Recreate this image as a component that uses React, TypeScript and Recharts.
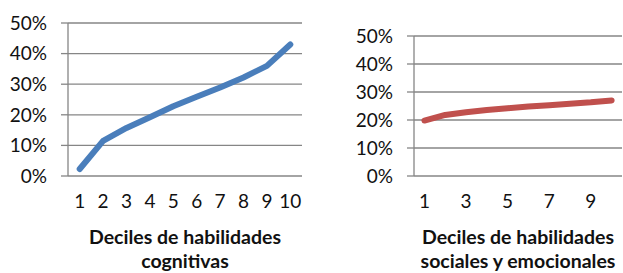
import { CartesianGrid, Label, Line, LineChart, XAxis, YAxis } from 'recharts';

const deciles = [1, 2, 3, 4, 5, 6, 7, 8, 9, 10];
const cognitivas = [0.023, 0.115, 0.157, 0.192, 0.228, 0.259, 0.289, 0.322, 0.36, 0.43];
const socioemocionales = [0.198, 0.218, 0.228, 0.236, 0.242, 0.248, 0.253, 0.258, 0.263, 0.27];
const yTicks = [0, 0.1, 0.2, 0.3, 0.4, 0.5];
const leftLabelTicks = [1, 2, 3, 4, 5, 6, 7, 8, 9, 10];
const rightLabelTicks = [1, 3, 5, 7, 9];
const leftTitle = ['Deciles de habilidades', 'cognitivas'];
const rightTitle = ['Deciles de habilidades', 'sociales y emocionales'];

// tick marks sit between the categories, labels at their centres
const bounds = [...deciles.map((d) => d - 0.5), deciles[deciles.length - 1] + 0.5];

const FONT = 'Lato, sans-serif';
const AXIS = '#868686';
const TEXT = '#111';

type Margin = { top: number; right: number; left: number; bottom: number };

type PanelProps = {
    values: number[];
    color: string;
    labelTicks: number[];
    title: string[];
    width: number;
    yAxisWidth: number;
    margin: Margin;
};

function Panel({ values, color, labelTicks, title, width, yAxisWidth, margin }: PanelProps) {
    const data = deciles.map((d, i) => ({ decil: d, value: values[i] }));

    const renderTitle = (props: any) => {
        const vb = props.viewBox || {};
        const cx = vb.x + vb.width / 2;
        return (
            <text x={cx} y={vb.y} textAnchor="middle" fontFamily={FONT} fontSize={19.5} fontWeight={700} fill={TEXT}>
                <tspan x={cx} dy={68}>{title[0]}</tspan>
                <tspan x={cx} dy={23.5}>{title[1]}</tspan>
            </text>
        );
    };

    return (
        <LineChart width={width} height={273} data={data} margin={margin} style={{ fontFamily: FONT }}>
            <CartesianGrid vertical={false} stroke={AXIS} strokeWidth={1.3} />
            <XAxis
                type="number"
                dataKey="decil"
                domain={[bounds[0], bounds[bounds.length - 1]]}
                ticks={bounds}
                tickFormatter={() => ''}
                tickSize={7}
                height={0}
                stroke={AXIS}
                strokeWidth={1.3}
                interval={0}
            />
            <XAxis
                xAxisId="lbl"
                type="number"
                dataKey="decil"
                domain={[bounds[0], bounds[bounds.length - 1]]}
                ticks={labelTicks}
                axisLine={false}
                tickLine={false}
                tickSize={0}
                tickMargin={19}
                height={97}
                interval={0}
                tick={{ fontSize: 19, fill: TEXT, fontFamily: FONT }}
            >
                <Label content={renderTitle} />
            </XAxis>
            <YAxis
                width={yAxisWidth}
                domain={[0, 0.5]}
                ticks={yTicks}
                interval={0}
                tickFormatter={(v: number) => `${Math.round(v * 100)}%`}
                tickSize={7}
                tickMargin={14}
                stroke={AXIS}
                strokeWidth={1.3}
                tick={{ fontSize: 19, fill: TEXT, fontFamily: FONT }}
            />
            <Line
                type="linear"
                dataKey="value"
                stroke={color}
                strokeWidth={6}
                strokeLinecap="round"
                strokeLinejoin="round"
                dot={false}
                isAnimationActive={false}
            />
        </LineChart>
    );
}

export default function App() {
    return (
        <div style={{ position: 'absolute', left: 0, top: 0, width: 623, height: 273, display: 'flex', background: '#fff' }}>
            <Panel
                values={cognitivas}
                color="#4A7EBB"
                labelTicks={leftLabelTicks}
                title={leftTitle}
                width={320}
                yAxisWidth={68}
                margin={{ top: 23, right: 18, left: 0, bottom: 0 }}
            />
            <Panel
                values={socioemocionales}
                color="#C0504D"
                labelTicks={rightLabelTicks}
                title={rightTitle}
                width={303}
                yAxisWidth={94}
                margin={{ top: 36, right: 1, left: 0, bottom: 0 }}
            />
        </div>
    );
}
